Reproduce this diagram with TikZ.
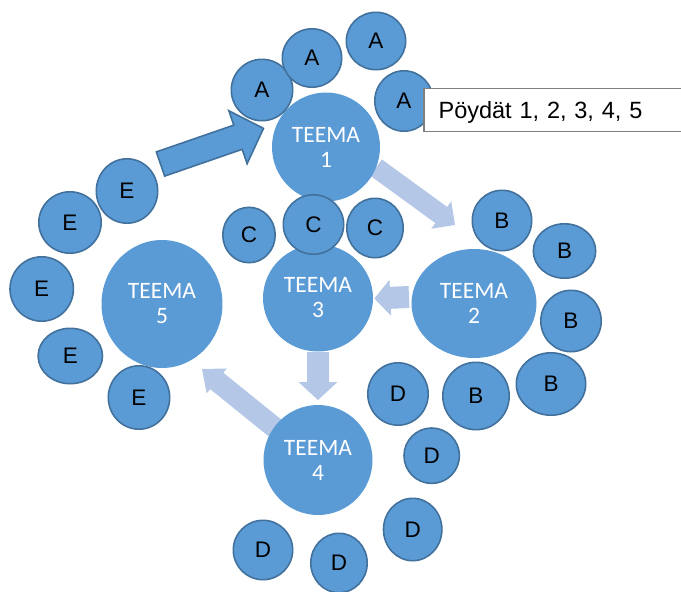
\documentclass[tikz,border=0pt]{standalone}
\usepackage{fontspec}
\setmainfont{Liberation Sans}
\newfontfamily\teemafont{Carlito}
\usetikzlibrary{shapes.geometric,calc}

\definecolor{seatfill}{HTML}{5B9BD5}
\definecolor{seatline}{HTML}{41719C}
\definecolor{flow}{HTML}{B4C7E7}
\definecolor{frameline}{HTML}{7F7F7F}

\tikzset{
  theme/.style={ellipse, fill=seatfill, inner sep=0pt, text=white,
    font=\teemafont\fontsize{23.5}{25}\selectfont, align=center},
  seatc/.style={ellipse, fill=seatfill, draw=seatline, line width=1.6pt,
    inner sep=0pt, font=\fontsize{22.5}{25}\selectfont},
  bigarrow/.style={fill=seatfill, draw=seatline, line width=1.6pt, line join=miter},
  lightarrow/.style={fill=flow},
  legendbox/.style={draw=frameline, line width=1.2pt, fill=white, anchor=west,
    minimum height=43.4pt, inner xsep=14.7pt, text width=250pt, align=left,
    text height=16.6pt, text depth=0pt, font=\fontsize{23.5}{26}\selectfont}
}

% small table circle: name, centre, letter, width, height
\newcommand\seat[5]{\node[seatc, minimum width=#4pt-1.6pt, minimum height=#5pt-1.6pt] (#1) at (#2) {#3};}

% block arrow: style, tail, tip, half body width, half head width, head length
\newcommand\blockarrow[6]{%
  \coordinate (arrowbase) at ($(#3)!#6!(#2)$);
  \path[#1] ($(#2)!#4!-90:(#3)$) -- ($(arrowbase)!#4!90:(#2)$)
    -- ($(arrowbase)!#5!90:(#2)$) -- (#3) -- ($(arrowbase)!#5!-90:(#2)$)
    -- ($(arrowbase)!#4!-90:(#2)$) -- ($(#2)!#4!90:(#3)$) -- cycle;}

\begin{document}
\begin{tikzpicture}[x=1pt, y=-1pt]
\useasboundingbox (0,0) rectangle (681,592);

% flow between the themes
\coordinate (f12s) at (376,167.5); \coordinate (f12t) at (455,225);
\coordinate (f23s) at (409,297);   \coordinate (f23t) at (374.3,298.5);
\coordinate (f34s) at (318,352);   \coordinate (f34t) at (318,400);
\coordinate (f45s) at (280,432);   \coordinate (f45t) at (202,369);
\coordinate (f51s) at (160.5,164); \coordinate (f51t) at (263.5,128.4);

\blockarrow{lightarrow}{f12s}{f12t}{10pt}{17pt}{17pt}
\blockarrow{lightarrow}{f23s}{f23t}{11pt}{18pt}{16pt}
\blockarrow{lightarrow}{f34s}{f34t}{11pt}{19.5pt}{18pt}
\blockarrow{lightarrow}{f45s}{f45t}{10.5pt}{16pt}{19pt}
\blockarrow{bigarrow}{f51s}{f51t}{12.8pt}{28pt}{27pt}

% themes
\node[theme, minimum width=108pt, minimum height=109pt] (t1) at (326,147) {TEEMA\\1};
\node[theme, minimum width=125pt, minimum height=109pt] (t2) at (474,303.5) {TEEMA\\2};
\node[theme, minimum width=110pt, minimum height=107pt] (t3) at (318,298) {TEEMA\\3};
\node[theme, minimum width=109pt, minimum height=110pt] (t4) at (318,460) {TEEMA\\4};
\node[theme, minimum width=121pt, minimum height=128pt] (t5) at (162,304) {TEEMA\\5};

% tables around the themes
\seat{a1}{262,90}{A}{63}{63}
\seat{a2}{312,58}{A}{61}{60}
\seat{a3}{376,41}{A}{61}{59}
\seat{a4}{404,101}{A}{60}{62}

\seat{b1}{502,220.5}{B}{61}{62}
\seat{b2}{564.5,251}{B}{64}{56}
\seat{b3}{571,321}{B}{62}{63}
\seat{b4}{551,384}{B}{71}{64}
\seat{b5}{476,396}{B}{68}{69}

\seat{c1}{249,235}{C}{54}{57}
\seat{c2}{313.5,224.5}{C}{62}{61}
\seat{c3}{375,228}{C}{58}{61}

\seat{d1}{398,394}{D}{62}{64}
\seat{d2}{431.7,455.7}{D}{57}{57}
\seat{d3}{412.7,529.5}{D}{60}{64}
\seat{d4}{263,550}{D}{61}{61}
\seat{d5}{339,563}{D}{58}{61}

\seat{e1}{127,191}{E}{63}{66}
\seat{e2}{70,222.5}{E}{64}{63}
\seat{e3}{41.7,289}{E}{65}{66}
\seat{e4}{70.3,356}{E}{66}{57}
\seat{e5}{139,397.5}{E}{63}{65}

% legend
\node[legendbox] (legend) at (423.3,110) {Pöydät 1, 2, 3, 4, 5};
\end{tikzpicture}
\end{document}
